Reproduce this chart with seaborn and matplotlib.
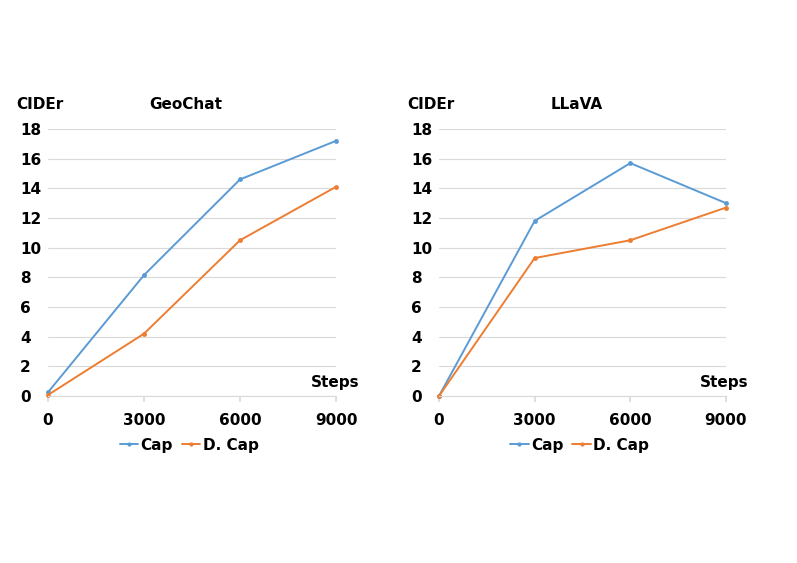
import matplotlib
matplotlib.use("Agg")
import matplotlib.pyplot as plt
import seaborn as sns
import pandas as pd

steps = [0, 3000, 6000, 9000]
geochat_cap = [0.25, 8.15, 14.6, 17.2]
geochat_dcap = [0.07, 4.2, 10.5, 14.1]
llava_cap = [0.0, 11.8, 15.7, 13.0]
llava_dcap = [0.0, 9.3, 10.5, 12.7]
series_names = ["Cap", "D. Cap"]
panel_titles = ["GeoChat", "LLaVA"]
yticks = [0, 2, 4, 6, 8, 10, 12, 14, 16, 18]

sns.set_theme(style="white")
plt.rcParams['font.family'] = ['DejaVu Sans']
plt.rcParams['text.color'] = 'black'

colors = {"Cap": "#5B9BD5", "D. Cap": "#ED7D31"}

fig = plt.figure(figsize=(7.97, 5.63), dpi=100)
positions = [[0.0602, 0.2966, 0.3614, 0.4743], [0.5508, 0.2966, 0.3601, 0.4743]]
data_sets = [(geochat_cap, geochat_dcap), (llava_cap, llava_dcap)]

for pos, title, (cap, dcap) in zip(positions, panel_titles, data_sets):
    ax = fig.add_axes(pos)
    df = pd.DataFrame({
        "Steps": steps * 2,
        "CIDEr": cap + dcap,
        "Series": [series_names[0]] * 4 + [series_names[1]] * 4,
    })
    sns.lineplot(data=df, x="Steps", y="CIDEr", hue="Series", palette=colors,
                 marker="o", markersize=3.5, markeredgewidth=0, linewidth=1.4,
                 ax=ax, clip_on=False)
    ax.set_xlim(0, 9000)
    ax.set_ylim(0, 18)
    ax.set_xticks(steps)
    ax.set_xticklabels([str(s) for s in steps])
    ax.set_yticks(yticks)
    ax.yaxis.grid(True, color="#D9D9D9", linewidth=0.8)
    ax.set_axisbelow(True)
    for s in ["top", "right", "left"]:
        ax.spines[s].set_visible(False)
    ax.spines["bottom"].set_color("#D9D9D9")
    ax.spines["bottom"].set_linewidth(0.8)
    ax.tick_params(axis="x", which="both", bottom=True, length=4, color="#D9D9D9",
                   pad=8, labelsize=11, labelcolor="black")
    ax.tick_params(axis="y", left=False, pad=14, labelsize=11, labelcolor="black")
    for lab in ax.get_xticklabels() + ax.get_yticklabels():
        lab.set_fontweight("bold")
    for lab in ax.get_yticklabels():
        lab.set_horizontalalignment("left")
    ax.set_xlabel("")
    ax.set_ylabel("")
    ax.text(-0.11, 1.09, "CIDEr", transform=ax.transAxes, fontsize=11,
            fontweight="bold", ha="left", va="center", color="black")
    ax.text(0.48, 1.09, title, transform=ax.transAxes, fontsize=11,
            fontweight="bold", ha="center", va="center", color="black")
    ax.text(1.08, 0.05, "Steps", transform=ax.transAxes, fontsize=11,
            fontweight="bold", ha="right", va="center", color="black")
    leg = ax.legend(loc="upper center", bbox_to_anchor=(0.49, -0.105), ncol=2,
                    frameon=False, handlelength=1.2, handletextpad=0.15,
                    columnspacing=0.6, prop={"weight": "bold", "size": 11})
    for h in leg.legend_handles:
        h.set_markersize(3)
    for t in leg.get_texts():
        t.set_color("black")

fig.savefig("out.png", dpi=100, facecolor="white")
